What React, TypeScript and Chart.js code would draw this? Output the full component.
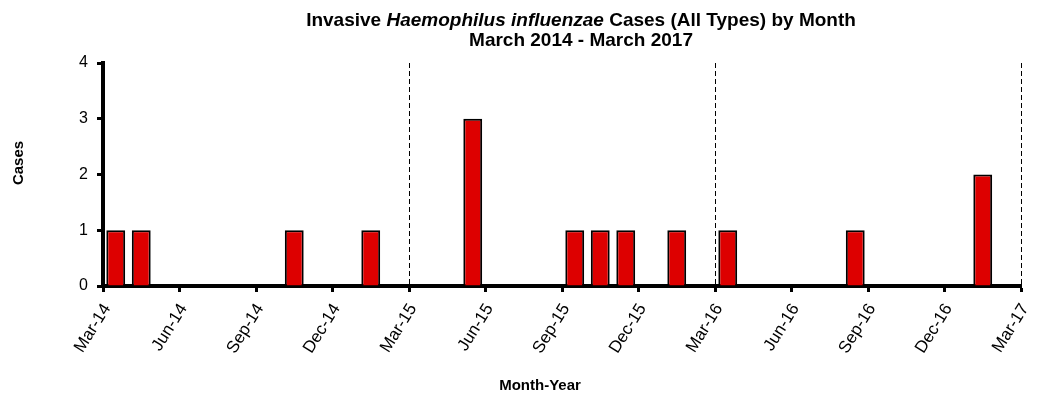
import React, { useEffect, useRef } from "react";
import { Chart, registerables } from "chart.js";

Chart.register(...registerables);

const FONT = '"Liberation Sans", Arial, Helvetica, sans-serif';

const months = [
  "Mar-14", "Apr-14", "May-14", "Jun-14", "Jul-14", "Aug-14", "Sep-14", "Oct-14", "Nov-14", "Dec-14", "Jan-15", "Feb-15",
  "Mar-15", "Apr-15", "May-15", "Jun-15", "Jul-15", "Aug-15", "Sep-15", "Oct-15", "Nov-15", "Dec-15", "Jan-16", "Feb-16",
  "Mar-16", "Apr-16", "May-16", "Jun-16", "Jul-16", "Aug-16", "Sep-16", "Oct-16", "Nov-16", "Dec-16", "Jan-17", "Feb-17",
];

const cases = [
  1, 1, 0, 0, 0, 0, 0, 1, 0, 0, 1, 0,
  0, 0, 3, 0, 0, 0, 1, 1, 1, 0, 1, 0,
  1, 0, 0, 0, 0, 1, 0, 0, 0, 0, 2, 0,
];

const tickLabels = [
  "Mar-14", "Jun-14", "Sep-14", "Dec-14", "Mar-15", "Jun-15", "Sep-15",
  "Dec-15", "Mar-16", "Jun-16", "Sep-16", "Dec-16", "Mar-17",
];

const titleLine1: [string, string][] = [
  ["Invasive ", "bold"],
  ["Haemophilus influenzae", "italic bold"],
  [" Cases (All Types) by Month", "bold"],
];
const titleLine2 = "March 2014 - March 2017";
const yTitle = "Cases";
const xTitle = "Month-Year";

const textPlugin = {
  id: "customText",
  afterDraw(chart: any) {
    const ctx = chart.ctx as CanvasRenderingContext2D;
    ctx.save();
    ctx.fillStyle = "#000";
    ctx.textBaseline = "alphabetic";
    const size = 19;
    let total = 0;
    const widths = titleLine1.map(([t, s]) => {
      ctx.font = `${s} ${size}px ${FONT}`;
      const w = ctx.measureText(t).width;
      total += w;
      return w;
    });
    const cx = 581;
    let x = cx - total / 2;
    titleLine1.forEach(([t, s], i) => {
      ctx.font = `${s} ${size}px ${FONT}`;
      ctx.textAlign = "left";
      ctx.fillText(t, x, 26);
      x += widths[i];
    });
    ctx.font = `bold ${size}px ${FONT}`;
    ctx.textAlign = "center";
    ctx.fillText(titleLine2, cx, 46);

    ctx.font = `bold 15px ${FONT}`;
    ctx.textAlign = "center";
    ctx.fillText(xTitle, 540, 390);
    ctx.save();
    ctx.translate(23, 163);
    ctx.rotate(-Math.PI / 2);
    ctx.fillText(yTitle, 0, 0);
    ctx.restore();
    ctx.restore();
  },
};

export default function App() {
  const ref = useRef<HTMLCanvasElement>(null);
  useEffect(() => {
    const chart = new Chart(ref.current as HTMLCanvasElement, {
      type: "bar",
      data: {
        datasets: [
          {
            data: months.map((m, i) => ({ x: i + 0.5, y: cases[i] })),
            backgroundColor: "#DD0000",
            borderColor: "#000000",
            borderWidth: 2,
            categoryPercentage: 1,
            barPercentage: 0.74,
          },
        ],
      },
      options: {
        animation: false,
        responsive: false,
        devicePixelRatio: 1,
        layout: { padding: { left: 0, right: 23, top: 63, bottom: 0 } },
        plugins: {
          legend: { display: false },
          title: { display: false },
          tooltip: { enabled: false },
        },
        scales: {
          x: {
            type: "linear",
            min: 0,
            max: 36,
            offset: false,
            afterFit: (s: any) => {
              s.height = 115;
              s.paddingLeft = 0;
              s.paddingRight = 0;
            },
            ticks: {
              stepSize: 3,
              autoSkip: false,
              maxRotation: 58,
              minRotation: 58,
              padding: 8,
              labelOffset: 4,
              color: "#000",
              font: { family: FONT, size: 17 },
              callback: (v: any) => tickLabels[Math.round(Number(v) / 3)] ?? "",
            },
            grid: {
              offset: false,
              color: (c: any) => {
                const v = c.tick ? c.tick.value : -1;
                const lab = tickLabels[Math.round(v / 3)];
                return v > 0 && lab && lab.startsWith("Mar") ? "#000" : "rgba(0,0,0,0)";
              },
              lineWidth: 1,
              tickColor: "#000",
              tickLength: 6,
              tickWidth: 3,
            },
            border: { display: true, color: "#000", width: 4, dash: [5, 3] },
          },
          y: {
            min: 0,
            max: 4,
            afterFit: (s: any) => {
              s.width = 103;
              s.paddingTop = 0;
              s.paddingBottom = 0;
            },
            ticks: {
              stepSize: 1,
              padding: 9,
              color: "#000",
              font: { family: FONT, size: 16 },
            },
            grid: {
              drawOnChartArea: false,
              tickColor: "#000",
              tickLength: 6,
              tickWidth: 3,
            },
            border: { display: true, color: "#000", width: 4 },
          },
        },
      },
      plugins: [textPlugin],
    } as any);
    return () => chart.destroy();
  }, []);
  return (
    <div style={{ position: "fixed", left: 0, top: 0, width: 1044, height: 401, background: "#fff" }}>
      <canvas ref={ref} width={1044} height={401} style={{ display: "block", width: 1044, height: 401 }} />
    </div>
  );
}
